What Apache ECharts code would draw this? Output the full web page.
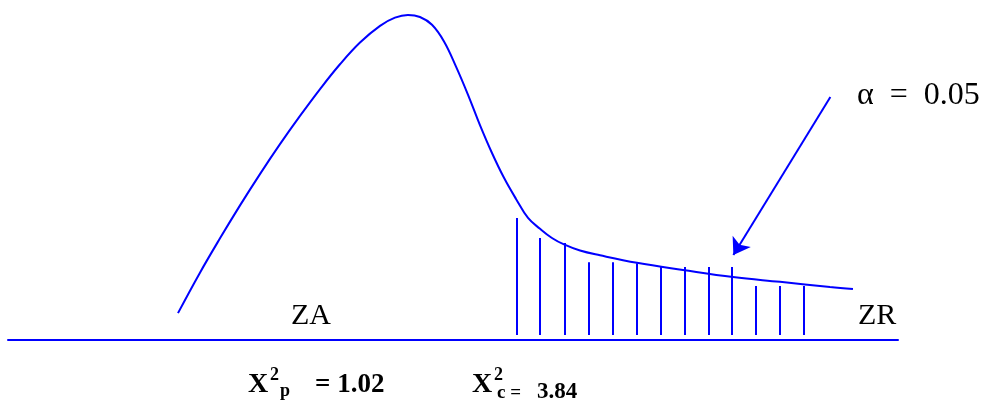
<!DOCTYPE html>
<html>
<head>
<meta charset="utf-8">
<script src="https://cdn.jsdelivr.net/npm/echarts@6/dist/echarts.min.js"></script>
<style>
  html, body { margin: 0; padding: 0; background: #fff; }
  #main { width: 985px; height: 408px; }
</style>
</head>
<body>
<div id="main"></div>
<script>
// curve of the distribution (x: 0..10 along the baseline, y: 0..1 height)
var curveX = [1.910, 2.157, 2.382, 2.607, 2.831, 3.056, 3.281, 3.506, 3.730, 3.955, 4.180, 4.348, 4.494,
  4.629, 4.764, 4.899, 5.034, 5.169, 5.303, 5.438, 5.573, 5.708, 5.843, 5.978, 6.112, 6.247, 6.427, 6.652,
  7.067, 7.584, 8.146, 8.674, 9.236, 9.494];
var curveY = [0.079, 0.198, 0.299, 0.396, 0.488, 0.576, 0.659, 0.738, 0.811, 0.875, 0.924, 0.948, 0.956,
  0.950, 0.927, 0.878, 0.804, 0.721, 0.632, 0.550, 0.477, 0.415, 0.359, 0.327, 0.300, 0.281, 0.263, 0.249,
  0.227, 0.206, 0.185, 0.171, 0.156, 0.150];

// hatching of the rejection zone
var hatchX = [5.72, 5.98, 6.25, 6.52, 6.79, 7.07, 7.33, 7.60, 7.87, 8.13, 8.40, 8.67, 8.94];
var hatchTop = [0.359, 0.300, 0.285, 0.229, 0.229, 0.226, 0.215, 0.215, 0.215, 0.215, 0.159, 0.159, 0.159];
var hatchBottom = 0.015;

// arrow pointing at alpha
var arrowFrom = [9.24, 0.715];
var arrowTo = [8.15, 0.25];

var blue = '#0000ff';

var curveData = curveX.map(function (x, i) { return [x, curveY[i]]; });
var hatchData = hatchX.map(function (x, i) {
  return { coords: [[x, hatchBottom], [x, hatchTop[i]]] };
});

function txt(left, top, text, size, bold) {
  return {
    type: 'text', left: left, top: top,
    style: {
      text: text, fill: '#000',
      fontFamily: 'Liberation Serif',
      fontSize: size,
      fontWeight: bold ? 'bold' : 'normal'
    }
  };
}

var chart = echarts.init(document.getElementById('main'));

chart.setOption({
  animation: false,
  grid: { left: 8, right: 87, top: 0, bottom: 68 },
  xAxis: {
    type: 'value',
    min: 0,
    max: 10,
    axisLine: { show: true, onZero: false, lineStyle: { color: blue, width: 2 } },
    axisTick: { show: false },
    axisLabel: { show: false },
    splitLine: { show: false }
  },
  yAxis: {
    type: 'value',
    min: 0,
    max: 1,
    show: false
  },
  series: [
    {
      type: 'line',
      data: curveData,
      smooth: 0.4,
      symbol: 'none',
      lineStyle: { color: blue, width: 2 }
    },
    {
      type: 'lines',
      coordinateSystem: 'cartesian2d',
      data: hatchData,
      symbol: 'none',
      lineStyle: { color: blue, width: 2, opacity: 1 }
    },
    {
      type: 'lines',
      coordinateSystem: 'cartesian2d',
      data: [{ coords: [arrowFrom, arrowTo] }],
      symbol: ['none', 'arrow'],
      symbolSize: 16,
      lineStyle: { color: blue, width: 2, opacity: 1 }
    }
  ],
  graphic: [
    txt(857, 80, 'α  =  0.05', 32, false),
    txt(291, 301, 'ZA', 30, false),
    txt(858, 301, 'ZR', 30, false),

    txt(248, 371, 'X', 28, true),
    txt(270, 366, '2', 18, true),
    txt(280, 382, 'p', 18, true),
    txt(315, 372, '= 1.02', 27, true),

    txt(472, 371, 'X', 28, true),
    txt(494, 366, '2', 18, true),
    txt(497, 384, 'c =', 19, true),
    txt(537, 381, '3.84', 23, true)
  ]
});
</script>
</body>
</html>
